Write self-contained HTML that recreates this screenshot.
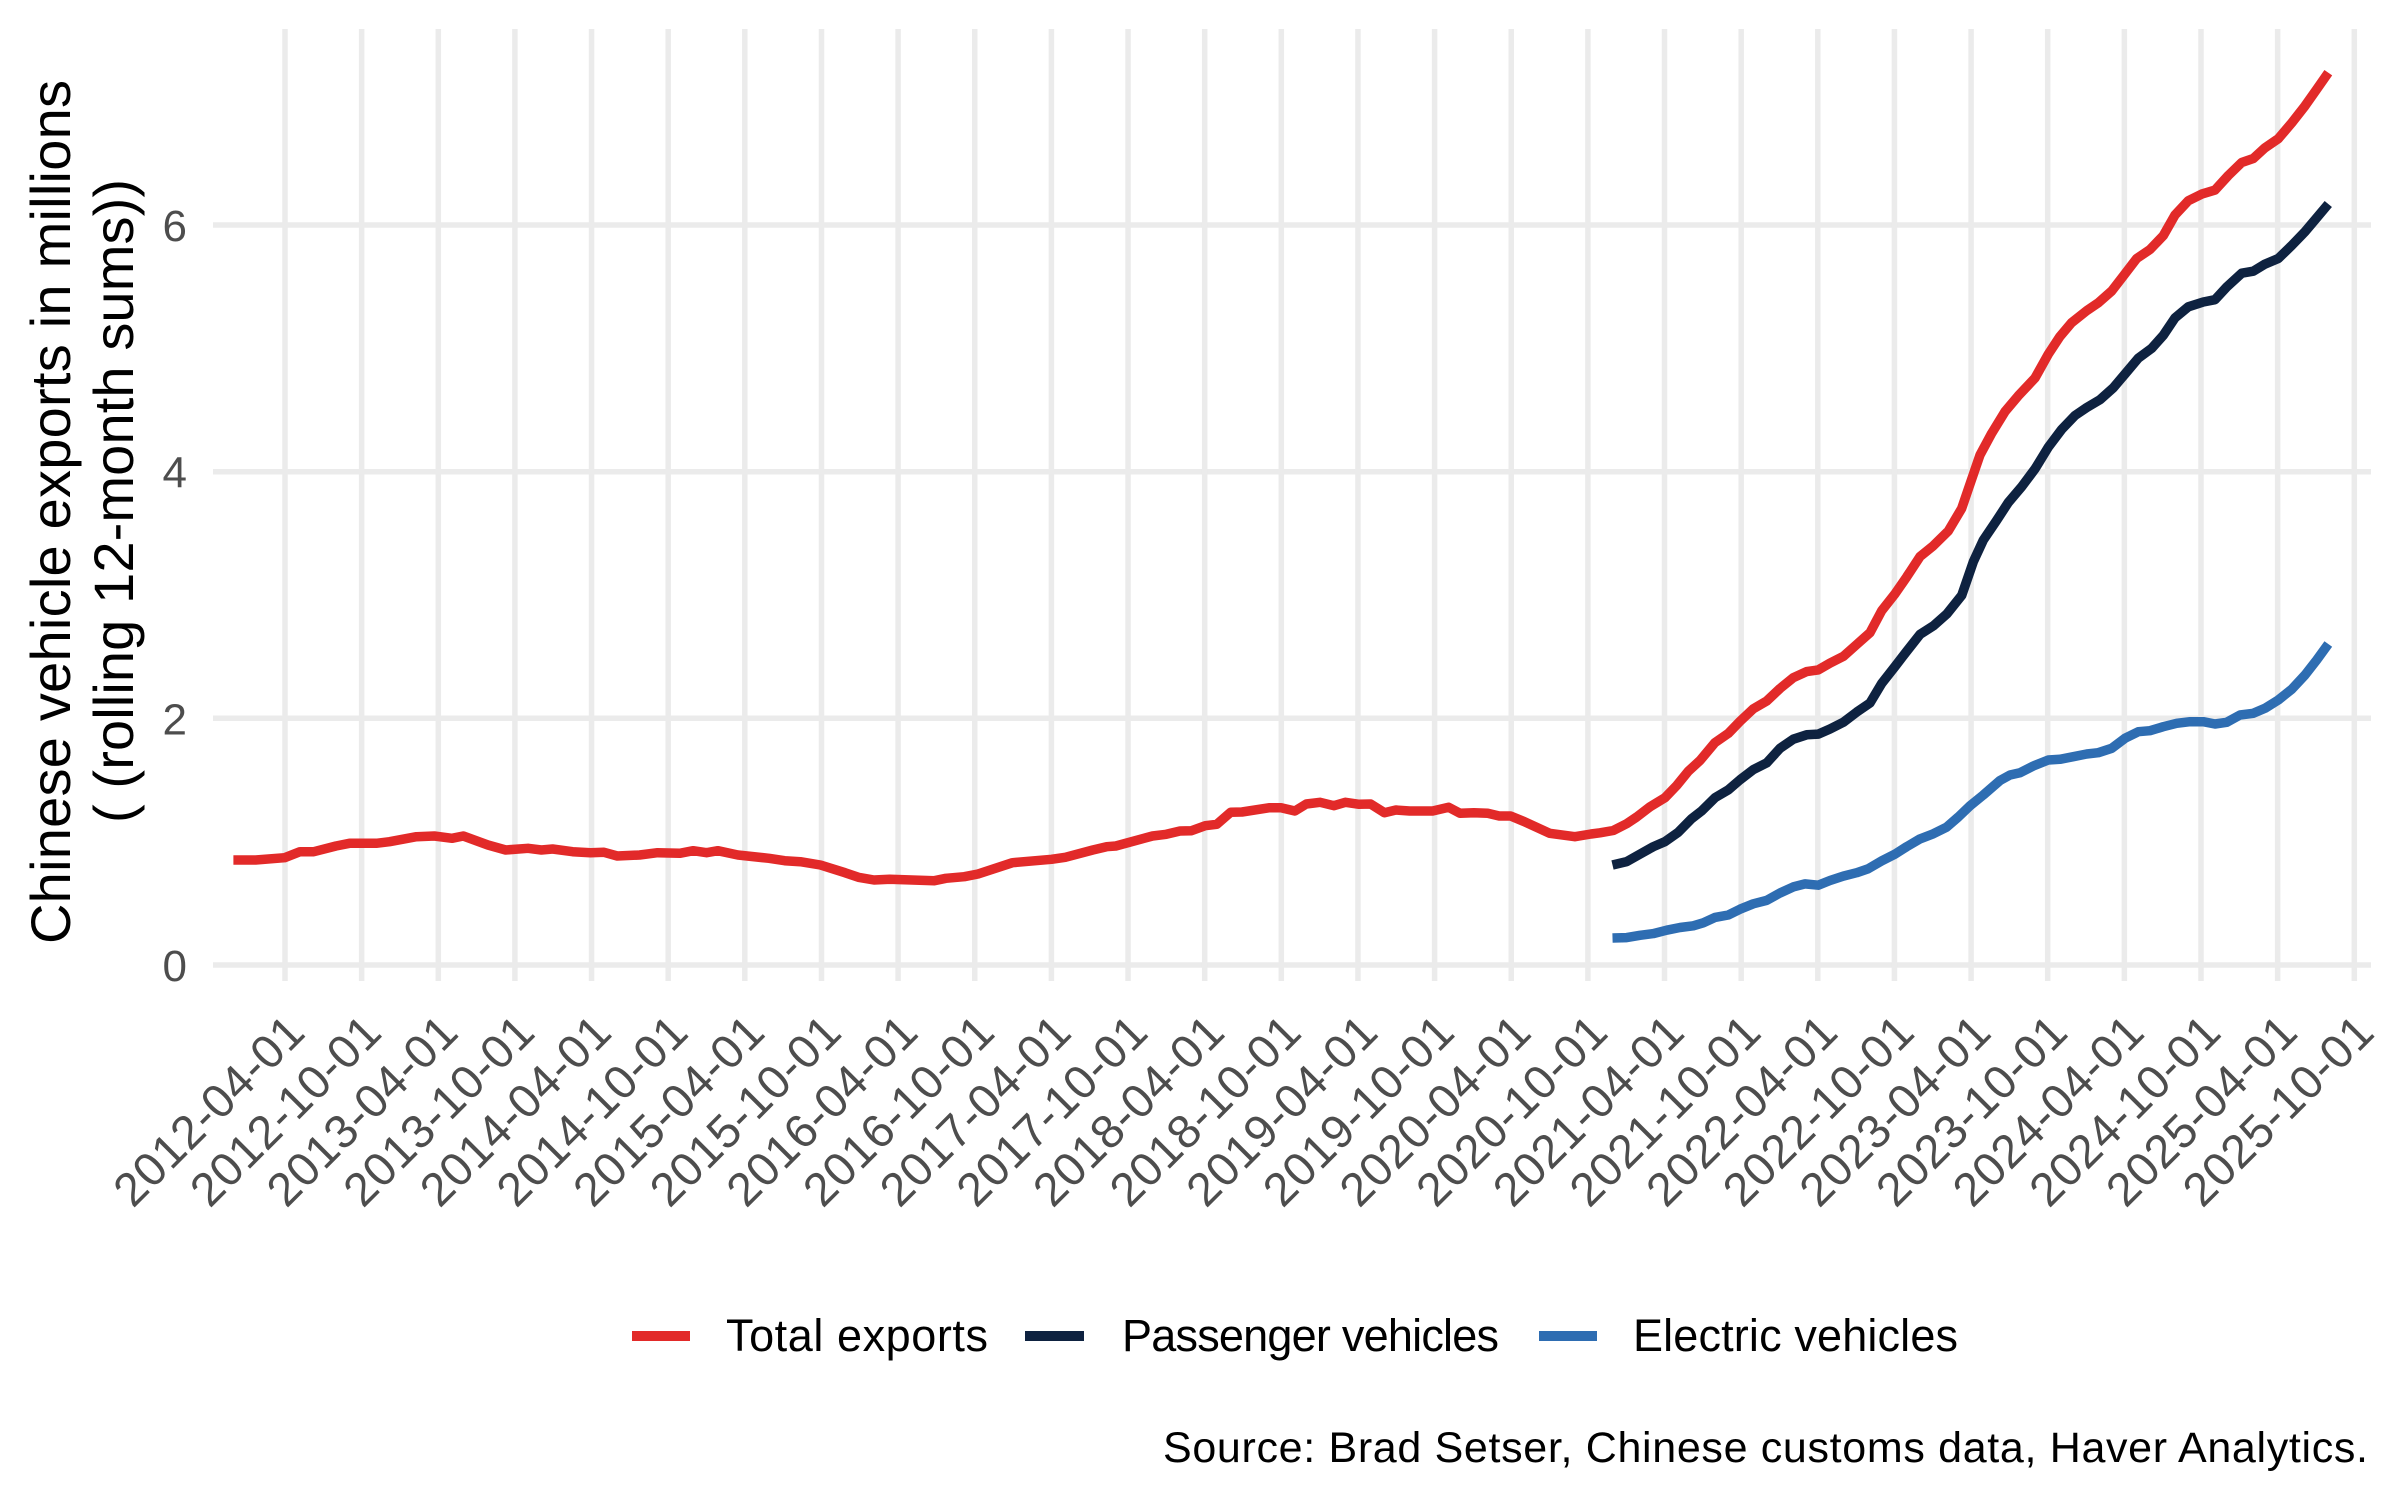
<!DOCTYPE html>
<html>
<head>
<meta charset="utf-8">
<style>
  html, body { margin: 0; padding: 0; background: #ffffff; }
  svg { display: block; }
  text { font-family: "Liberation Sans", "DejaVu Sans", sans-serif; }
</style>
</head>
<body>
<svg width="2400" height="1500" viewBox="0 0 2400 1500" xmlns="http://www.w3.org/2000/svg">
  <rect x="0" y="0" width="2400" height="1500" fill="#ffffff"/>

  <!-- horizontal grid -->
  <g stroke="#EBEBEB" stroke-width="5.5">
    <line x1="213" y1="965" x2="2371" y2="965"/>
    <line x1="213" y1="718.3" x2="2371" y2="718.3"/>
    <line x1="213" y1="471.7" x2="2371" y2="471.7"/>
    <line x1="213" y1="225" x2="2371" y2="225"/>
  </g>
  <!-- vertical grid -->
  <g stroke="#EBEBEB" stroke-width="5.5">
    <line x1="285" y1="29" x2="285" y2="981"/>
    <line x1="361.64" y1="29" x2="361.64" y2="981"/>
    <line x1="438.28" y1="29" x2="438.28" y2="981"/>
    <line x1="514.92" y1="29" x2="514.92" y2="981"/>
    <line x1="591.56" y1="29" x2="591.56" y2="981"/>
    <line x1="668.2" y1="29" x2="668.2" y2="981"/>
    <line x1="744.84" y1="29" x2="744.84" y2="981"/>
    <line x1="821.48" y1="29" x2="821.48" y2="981"/>
    <line x1="898.12" y1="29" x2="898.12" y2="981"/>
    <line x1="974.76" y1="29" x2="974.76" y2="981"/>
    <line x1="1051.4" y1="29" x2="1051.4" y2="981"/>
    <line x1="1128.04" y1="29" x2="1128.04" y2="981"/>
    <line x1="1204.68" y1="29" x2="1204.68" y2="981"/>
    <line x1="1281.32" y1="29" x2="1281.32" y2="981"/>
    <line x1="1357.96" y1="29" x2="1357.96" y2="981"/>
    <line x1="1434.6" y1="29" x2="1434.6" y2="981"/>
    <line x1="1511.24" y1="29" x2="1511.24" y2="981"/>
    <line x1="1587.88" y1="29" x2="1587.88" y2="981"/>
    <line x1="1664.52" y1="29" x2="1664.52" y2="981"/>
    <line x1="1741.16" y1="29" x2="1741.16" y2="981"/>
    <line x1="1817.8" y1="29" x2="1817.8" y2="981"/>
    <line x1="1894.44" y1="29" x2="1894.44" y2="981"/>
    <line x1="1971.08" y1="29" x2="1971.08" y2="981"/>
    <line x1="2047.72" y1="29" x2="2047.72" y2="981"/>
    <line x1="2124.36" y1="29" x2="2124.36" y2="981"/>
    <line x1="2201" y1="29" x2="2201" y2="981"/>
    <line x1="2277.64" y1="29" x2="2277.64" y2="981"/>
    <line x1="2354.28" y1="29" x2="2354.28" y2="981"/>
  </g>

  <!-- series -->
  <g fill="none" stroke-width="9.5" stroke-linejoin="round" stroke-linecap="butt">
    <polyline stroke="#E22A29" points="233.4,860 255.7,860 284.7,857.7 300,851.7 313.8,851.7 336,846 349.5,843.3 376.3,843.3 389.6,841.7 416.4,836.7 434.3,836 452,838.3 463.3,836 487.9,845 505.7,850 528,848.3 541.4,850 552.6,849 572.7,851.7 590.5,852.7 604,852.3 617.3,856 639.6,855 657.5,852.7 679.8,853.3 693.2,850.7 706.6,852.7 717.8,850.7 737.9,855 769,858.3 784.7,860.7 800.4,861.7 820.4,865 845,872.7 858.4,877.3 874,880 889.6,879.3 934.4,880.7 945.9,878.3 964.3,876.7 978,874 1012.5,862.7 1051.5,859.3 1065.3,857.3 1092.8,850 1106.6,846.7 1115.8,846 1152.5,836 1166.3,834.3 1180,831 1191.5,830.7 1205.3,825.7 1216.8,824.3 1230.6,812.3 1242,812 1269.6,807.7 1281,807.7 1294.9,811 1306.3,804 1320.1,802.3 1333.9,805.7 1345.4,802.3 1359.1,804.3 1370.6,804 1384.4,812.7 1395.9,810 1409.6,811 1432.6,811 1448.7,807.3 1460.1,813.3 1473.9,812.7 1487.7,813.3 1499.2,816 1510.6,816 1524.4,821.7 1549.7,833.3 1574.9,836.7 1591,834 1600,832.8 1613.3,830.5 1626.7,823.7 1636.7,817 1650,806.8 1665,797.7 1676.7,785.5 1688.3,771.3 1700,760.5 1715,742.6 1728.3,733.4 1740,721.3 1753.3,708.8 1766.7,701 1780,688.5 1793.3,677.7 1806.7,671.6 1818.3,669.9 1830,663.1 1843.3,656.4 1856.7,644.5 1870,632.7 1881.7,610.7 1895,593.8 1906.7,576.9 1920,556.6 1933.3,545.8 1948.3,531 1961.7,508.4 1969,487 1980,455 1991.7,433.3 2005,411.6 2018.3,395.8 2035,378 2048.3,354.2 2060,336.4 2071.7,322.6 2086.7,310.7 2098.3,302.8 2111.7,291 2123.3,276 2136.7,258.5 2150,249.5 2163.3,235.6 2175,215 2188.3,200.8 2201.7,194.1 2215,190.1 2228.3,175.5 2241.7,162.5 2253.3,158.5 2265,147.8 2278.3,138.7 2291.7,122.9 2305,105.9 2316.7,89.3 2328.3,72.7"/>
    <polyline stroke="#0E2240" points="1612.5,865 1626.7,861.6 1640,854.1 1653.3,846.7 1665,841.6 1678.3,832.2 1691.7,818.6 1701.7,810.9 1715,797.7 1728.3,789.9 1740,779.8 1753.3,769.6 1766.7,762.9 1780,748.3 1793.3,739.2 1806.7,734.8 1818.3,734.1 1830,729 1843.3,722.3 1856.7,712.1 1870,703 1881.7,683.4 1895,666.5 1906.7,651.3 1920,634.4 1933.3,625.9 1946.7,614.1 1961.7,595.4 1973.3,561.8 1983.3,540.1 1996.7,520.3 2008.3,502.5 2021.7,486.7 2035,468.9 2048.3,447.2 2061.7,429.4 2075,415.5 2086.7,407.6 2100,399.7 2113.3,387.8 2125,374 2138.3,358.2 2151.7,348.3 2163.3,335.3 2175,317.9 2188.3,306.8 2203.3,302 2215,299.7 2226.7,287 2241.7,273.2 2253.3,271.2 2265,264.1 2278.3,258.5 2291.7,245.5 2305,231.7 2316.7,217.8 2328.3,204"/>
    <polyline stroke="#2E6DB2" points="1612.5,938 1626.7,937.6 1640,935.3 1653.3,933.6 1666.7,930.2 1680,927.5 1693.3,925.8 1703.3,922.8 1715,917.4 1728.3,915 1740,909.2 1753.3,903.8 1766.7,900.4 1780,893 1793.3,886.9 1805,883.9 1818.3,885.2 1830,880.5 1843.3,876.1 1856.7,872.7 1868.3,868.7 1881.7,860.9 1895,854.1 1906.7,846.7 1920,838.9 1933.3,833.8 1946.7,827.1 1958.3,817 1970,805.8 1983.3,795 2000,780.5 2010,775 2020,772.7 2033.3,766 2048.3,760 2060,759.3 2073.3,756.7 2086.7,754 2098.3,752.7 2111.7,748.3 2125,738.3 2138.3,731.7 2150,730.7 2163.3,726.7 2176.7,723.3 2190,721.7 2203.3,721.7 2215,724 2226.7,722.3 2240,715 2253.3,713.3 2265,708.3 2278.3,700 2291.7,689.3 2305,675 2316.7,660 2328.3,644"/>
  </g>

  <!-- y tick labels -->
  <g fill="#4D4D4D" font-size="44" text-anchor="end">
    <text x="187" y="981">0</text>
    <text x="187" y="734.3">2</text>
    <text x="187" y="487.7">4</text>
    <text x="187" y="241">6</text>
  </g>

  <!-- x tick labels -->
  <g fill="#4D4D4D" font-size="47" text-anchor="end">
    <text transform="translate(307,1035) rotate(-45)" textLength="246">2012-04-01</text>
    <text transform="translate(383.64,1035) rotate(-45)" textLength="246">2012-10-01</text>
    <text transform="translate(460.28,1035) rotate(-45)" textLength="246">2013-04-01</text>
    <text transform="translate(536.92,1035) rotate(-45)" textLength="246">2013-10-01</text>
    <text transform="translate(613.56,1035) rotate(-45)" textLength="246">2014-04-01</text>
    <text transform="translate(690.2,1035) rotate(-45)" textLength="246">2014-10-01</text>
    <text transform="translate(766.84,1035) rotate(-45)" textLength="246">2015-04-01</text>
    <text transform="translate(843.48,1035) rotate(-45)" textLength="246">2015-10-01</text>
    <text transform="translate(920.12,1035) rotate(-45)" textLength="246">2016-04-01</text>
    <text transform="translate(996.76,1035) rotate(-45)" textLength="246">2016-10-01</text>
    <text transform="translate(1073.4,1035) rotate(-45)" textLength="246">2017-04-01</text>
    <text transform="translate(1150.04,1035) rotate(-45)" textLength="246">2017-10-01</text>
    <text transform="translate(1226.68,1035) rotate(-45)" textLength="246">2018-04-01</text>
    <text transform="translate(1303.32,1035) rotate(-45)" textLength="246">2018-10-01</text>
    <text transform="translate(1379.96,1035) rotate(-45)" textLength="246">2019-04-01</text>
    <text transform="translate(1456.6,1035) rotate(-45)" textLength="246">2019-10-01</text>
    <text transform="translate(1533.24,1035) rotate(-45)" textLength="246">2020-04-01</text>
    <text transform="translate(1609.88,1035) rotate(-45)" textLength="246">2020-10-01</text>
    <text transform="translate(1686.52,1035) rotate(-45)" textLength="246">2021-04-01</text>
    <text transform="translate(1763.16,1035) rotate(-45)" textLength="246">2021-10-01</text>
    <text transform="translate(1839.8,1035) rotate(-45)" textLength="246">2022-04-01</text>
    <text transform="translate(1916.44,1035) rotate(-45)" textLength="246">2022-10-01</text>
    <text transform="translate(1993.08,1035) rotate(-45)" textLength="246">2023-04-01</text>
    <text transform="translate(2069.72,1035) rotate(-45)" textLength="246">2023-10-01</text>
    <text transform="translate(2146.36,1035) rotate(-45)" textLength="246">2024-04-01</text>
    <text transform="translate(2223,1035) rotate(-45)" textLength="246">2024-10-01</text>
    <text transform="translate(2299.64,1035) rotate(-45)" textLength="246">2025-04-01</text>
    <text transform="translate(2376.28,1035) rotate(-45)" textLength="246">2025-10-01</text>
  </g>

  <!-- y axis title -->
  <g fill="#000000" font-size="56" text-anchor="middle">
    <text transform="translate(70,512) rotate(-90)" textLength="864">Chinese vehicle exports in millions</text>
    <text transform="translate(133,501) rotate(-90)" textLength="644">( (rolling 12-month sums))</text>
  </g>

  <!-- legend -->
  <g stroke-width="10">
    <line x1="632" y1="1336" x2="690" y2="1336" stroke="#E22A29"/>
    <line x1="1025" y1="1336" x2="1084" y2="1336" stroke="#0E2240"/>
    <line x1="1539" y1="1336" x2="1597" y2="1336" stroke="#2E6DB2"/>
  </g>
  <g fill="#000000" font-size="45">
    <text x="726" y="1351" textLength="262">Total exports</text>
    <text x="1122" y="1351" textLength="377">Passenger vehicles</text>
    <text x="1633" y="1351" textLength="325">Electric vehicles</text>
  </g>

  <!-- caption -->
  <text x="1163" y="1462" font-size="43" fill="#000000" textLength="1205">Source: Brad Setser, Chinese customs data, Haver Analytics.</text>
</svg>
</body>
</html>
